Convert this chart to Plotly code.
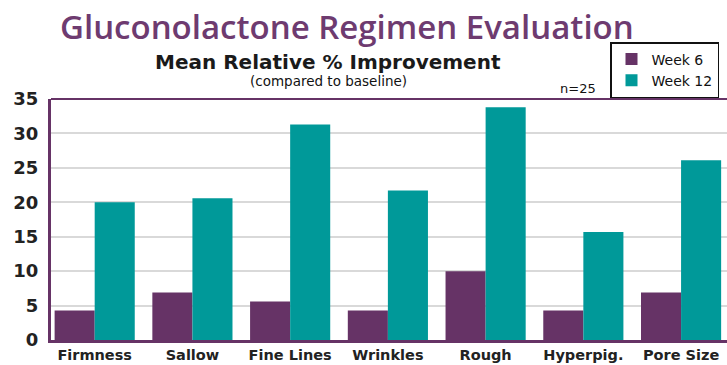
import plotly.graph_objects as go

categories = ["Firmness", "Sallow", "Fine Lines", "Wrinkles", "Rough", "Hyperpig.", "Pore Size"]
week6 = [4.3, 6.9, 5.6, 4.3, 10.0, 4.3, 6.9]
week12 = [20.0, 20.6, 31.3, 21.7, 33.8, 15.7, 26.1]
y_ticks = [0, 5, 10, 15, 20, 25, 30, 35]

PURPLE = "#663366"
TEAL = "#009999"
TITLE_PURPLE = "#6e3b70"

fig = go.Figure()
fig.add_trace(go.Bar(x=categories, y=week6, name="Week 6", marker=dict(color=PURPLE, line=dict(width=0))))
fig.add_trace(go.Bar(x=categories, y=week12, name="Week 12", marker=dict(color=TEAL, line=dict(width=0))))

W, H = 727, 365
ml, mr, mt, mb = 51, 0, 99, 25
PH = H - mt - mb

def py(pix):
    return 1 + (mt - pix) / PH

def px(pix):
    return (pix - ml) / (W - ml - mr)

fig.update_layout(
    width=W, height=H,
    margin=dict(l=ml, r=mr, t=mt, b=mb),
    paper_bgcolor="white", plot_bgcolor="white",
    barmode="group", bargap=0.18, bargroupgap=0,
    showlegend=True,
    legend=dict(
        x=px(610), y=py(42),
        xanchor="left", yanchor="top",
        bordercolor="#111111", borderwidth=1.5, bgcolor="white",
        font=dict(family="DejaVu Sans", size=14, color="#111111"),
        tracegroupgap=0, itemwidth=30,
    ),
    xaxis=dict(
        range=[-0.447, 6.47], showline=True, linecolor=PURPLE, linewidth=3,
        ticks="", showgrid=False,
        tickfont=dict(family="DejaVu Sans", size=14.5, color="#222222", weight="bold"),
    ),
    yaxis=dict(
        range=[0, 35], tickvals=y_ticks, showline=True, linecolor=PURPLE, linewidth=3,
        showgrid=True, gridcolor="#d9d9d9", gridwidth=2, ticks="", zeroline=False,
        tickfont=dict(family="DejaVu Sans", size=18, color="#222222", weight="bold"),
        ticklabelstandoff=6,
    ),
    shapes=[
        dict(type="line", xref="paper", yref="paper", x0=0, x1=1, y0=1, y1=1,
             line=dict(color=PURPLE, width=2)),
    ],
    annotations=[
        dict(text="Gluconolactone Regimen Evaluation", xref="paper", yref="paper",
             x=px(347), y=py(27), xanchor="center", yanchor="middle",
             showarrow=False, font=dict(family="Open Sans", size=33, color=TITLE_PURPLE, weight=600)),
        dict(text="Mean Relative % Improvement", xref="paper", yref="paper",
             x=px(328), y=py(62), xanchor="center", yanchor="middle",
             showarrow=False, font=dict(family="DejaVu Sans", size=20, color="#1a1a1a", weight="bold")),
        dict(text="(compared to baseline)", xref="paper", yref="paper",
             x=px(328), y=py(81), xanchor="center", yanchor="middle",
             showarrow=False, font=dict(family="DejaVu Sans", size=13.5, color="#111111")),
        dict(text="n=25", xref="paper", yref="paper",
             x=px(578), y=py(89), xanchor="center", yanchor="middle",
             showarrow=False, font=dict(family="DejaVu Sans", size=13, color="#111111")),
    ],
)

fig.write_html("out.html")
